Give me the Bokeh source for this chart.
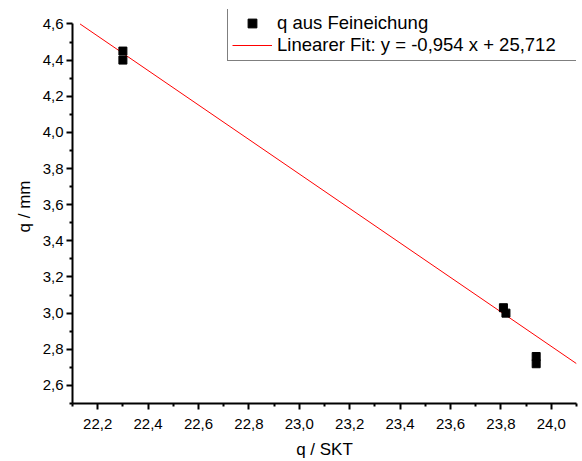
from bokeh.plotting import figure
from bokeh.models import Range1d, FixedTicker, CustomJSTickFormatter, Legend, LegendItem
from bokeh.embed import file_html
from bokeh.resources import INLINE

# data
x_values = [22.30, 22.30, 23.81, 23.82, 23.94, 23.94]
y_values = [4.45, 4.40, 3.03, 3.00, 2.76, 2.72]
fit_slope = -0.954
fit_intercept = 25.712
x_ticks = [22.2, 22.4, 22.6, 22.8, 23.0, 23.2, 23.4, 23.6, 23.8, 24.0]
x_minor = [22.1, 22.3, 22.5, 22.7, 22.9, 23.1, 23.3, 23.5, 23.7, 23.9, 24.1]
y_ticks = [2.6, 2.8, 3.0, 3.2, 3.4, 3.6, 3.8, 4.0, 4.2, 4.4, 4.6]
y_minor = [2.5, 2.7, 2.9, 3.1, 3.3, 3.5, 3.7, 3.9, 4.1, 4.3, 4.5]
series_label = "q aus Feineichung"
fit_label = "Linearer Fit: y = -0,954 x + 25,712"

X0, X1 = 22.1, 24.1
Y0, Y1 = 2.5, 4.6          # axis extent
Y_VIEW_TOP = 4.68          # extra room above so the legend can sit over the axis top

FONT = "Liberation Sans"

p = figure(width=582, height=461, output_backend="svg", toolbar_location=None,
           x_range=Range1d(X0, X1), y_range=Range1d(Y0, Y_VIEW_TOP),
           min_border_left=72, min_border_right=6, min_border_top=9, min_border_bottom=57)
p.outline_line_color = None
p.xgrid.visible = False
p.ygrid.visible = False
p.background_fill_color = "white"
p.border_fill_color = "white"

# fit line drawn within the axis box (clipped at the top of the y axis)
fit_x0 = max(X0, (Y1 - fit_intercept) / fit_slope)
fit_x = [fit_x0, X1]
fit_y = [fit_slope * x + fit_intercept for x in fit_x]
r_fit = p.line(fit_x, fit_y, line_color="#ff0000", line_width=1)
r_pts = p.scatter(x_values, y_values, marker="square", size=8,
                  fill_color="black", line_color="black")

fmt = CustomJSTickFormatter(code="return tick.toFixed(1).replace('.', ',');")

for ax, ticks, minor, label in ((p.xaxis[0], x_ticks, x_minor, "q / SKT"),
                                (p.yaxis[0], y_ticks, y_minor, "q / mm")):
    ax.ticker = FixedTicker(ticks=ticks, minor_ticks=minor)
    ax.formatter = fmt
    ax.axis_label = label
    ax.axis_label_text_font = FONT
    ax.axis_label_text_font_size = "17px"
    ax.axis_label_text_font_style = "normal"
    ax.axis_label_text_color = "black"
    ax.major_label_text_font = FONT
    ax.major_label_text_font_size = "15px"
    ax.major_label_text_color = "black"
    ax.axis_line_width = 2
    ax.axis_line_color = "black"
    ax.major_tick_line_width = 2
    ax.minor_tick_line_width = 2
    ax.major_tick_line_color = "black"
    ax.minor_tick_line_color = "black"
    ax.major_tick_out = 6
    ax.major_tick_in = 0
    ax.minor_tick_out = 3
    ax.minor_tick_in = 0

p.yaxis[0].bounds = (Y0, Y1)
p.yaxis[0].major_label_standoff = 3
p.yaxis[0].axis_label_standoff = 6
p.xaxis[0].major_label_standoff = 9
p.xaxis[0].axis_label_standoff = 8

legend = Legend(items=[LegendItem(label=series_label, renderers=[r_pts]),
                       LegendItem(label=fit_label, renderers=[r_fit])],
                location=(155, 342), margin=0, padding=4, spacing=0,
                glyph_width=40, glyph_height=22, label_height=22, label_width=330,
                label_standoff=5, label_text_font=FONT, label_text_font_size="18.5px",
                label_text_color="black", border_line_color="black", border_line_width=1.5,
                background_fill_color="white", background_fill_alpha=1.0)
p.add_layout(legend, "center")

open("out.html", "w").write(file_html(p, INLINE))
